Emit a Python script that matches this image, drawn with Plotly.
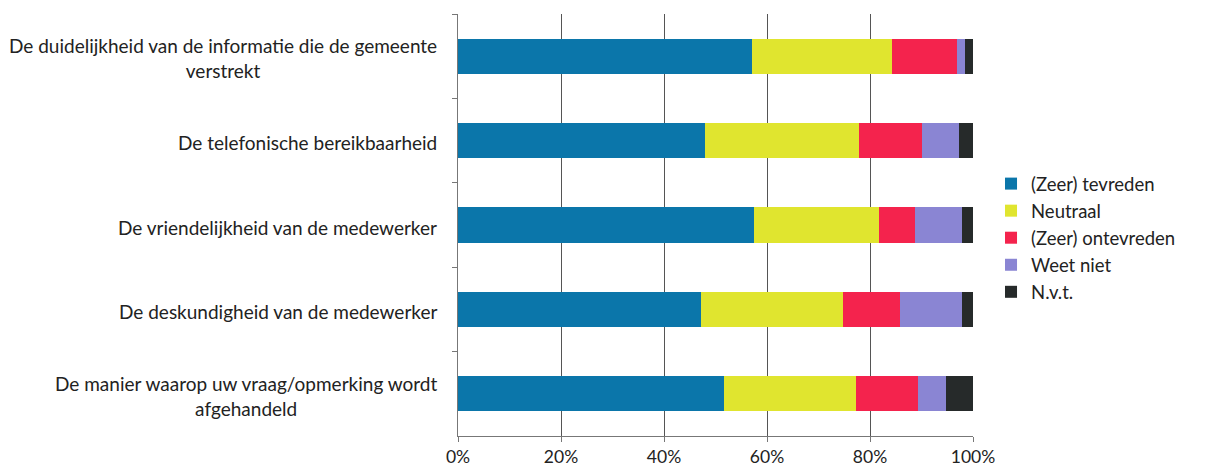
import plotly.graph_objects as go

categories = [
    "De duidelijkheid van de informatie die de gemeente<br>verstrekt",
    "De telefonische bereikbaarheid",
    "De vriendelijkheid van de medewerker",
    "De deskundigheid van de medewerker",
    "De manier waarop uw vraag/opmerking wordt<br>afgehandeld",
]
series_names = ["(Zeer) tevreden", "Neutraal", "(Zeer) ontevreden", "Weet niet", "N.v.t."]
zeer_tevreden = [57.1, 48.0, 57.4, 47.2, 51.6]
neutraal = [27.2, 29.8, 24.4, 27.5, 25.6]
zeer_ontevreden = [12.5, 12.2, 6.9, 11.1, 12.1]
weet_niet = [1.7, 7.2, 9.1, 12.0, 5.5]
nvt = [1.5, 2.8, 2.2, 2.2, 5.2]
x_ticks = [0, 20, 40, 60, 80, 100]
x_ticklabels = ["0%", "20%", "40%", "60%", "80%", "100%"]

colors = ["#0B76AA", "#E0E52F", "#F4234D", "#8A85D3", "#262A2A"]
values = [zeer_tevreden, neutraal, zeer_ontevreden, weet_niet, nvt]

FONT = "Lato, Carlito, Calibri, sans-serif"

fig = go.Figure()
for i, (name, vals, col) in enumerate(zip(series_names, values, colors)):
    fig.add_trace(go.Bar(
        y=categories, x=vals, name=name, orientation="h",
        marker=dict(color=col, line=dict(width=0)),
        legendgroup=f"g{i}",
    ))

for cat in categories:
    fig.add_annotation(
        x=0, y=cat, xref="paper", yref="y", text=cat,
        xanchor="right", yanchor="middle", align="center",
        xshift=-19, yshift=-2, showarrow=False,
        font=dict(family=FONT, size=19, color="#222222"),
    )

fig.update_layout(
    barmode="stack",
    bargap=0.585,
    width=1204, height=465,
    margin=dict(l=450, r=239, t=6, b=35),
    plot_bgcolor="white", paper_bgcolor="white",
    font=dict(family=FONT, size=18, color="#222222"),
    legend=dict(
        x=1.035, y=0.469, xanchor="left", yanchor="middle",
        traceorder="normal", tracegroupgap=6.5,
        font=dict(family=FONT, size=18.5, color="#222222"),
        itemclick=False,
    ),
    xaxis=dict(
        range=[0, 100], tickvals=x_ticks, ticktext=x_ticklabels,
        showgrid=True, gridcolor="#555555", gridwidth=1,
        showline=True, linecolor="#777777", linewidth=1,
        ticks="outside", ticklen=5, tickcolor="#777777",
        tickfont=dict(family=FONT, size=17.5, color="#222222"),
        zeroline=False, fixedrange=True,
    ),
    yaxis=dict(
        autorange="reversed", showticklabels=False,
        showline=True, linecolor="#777777", linewidth=1,
        ticks="outside", ticklen=5, tickcolor="#777777",
        tickson="boundaries", showgrid=False, fixedrange=True,
    ),
)

fig.write_html("out.html")
